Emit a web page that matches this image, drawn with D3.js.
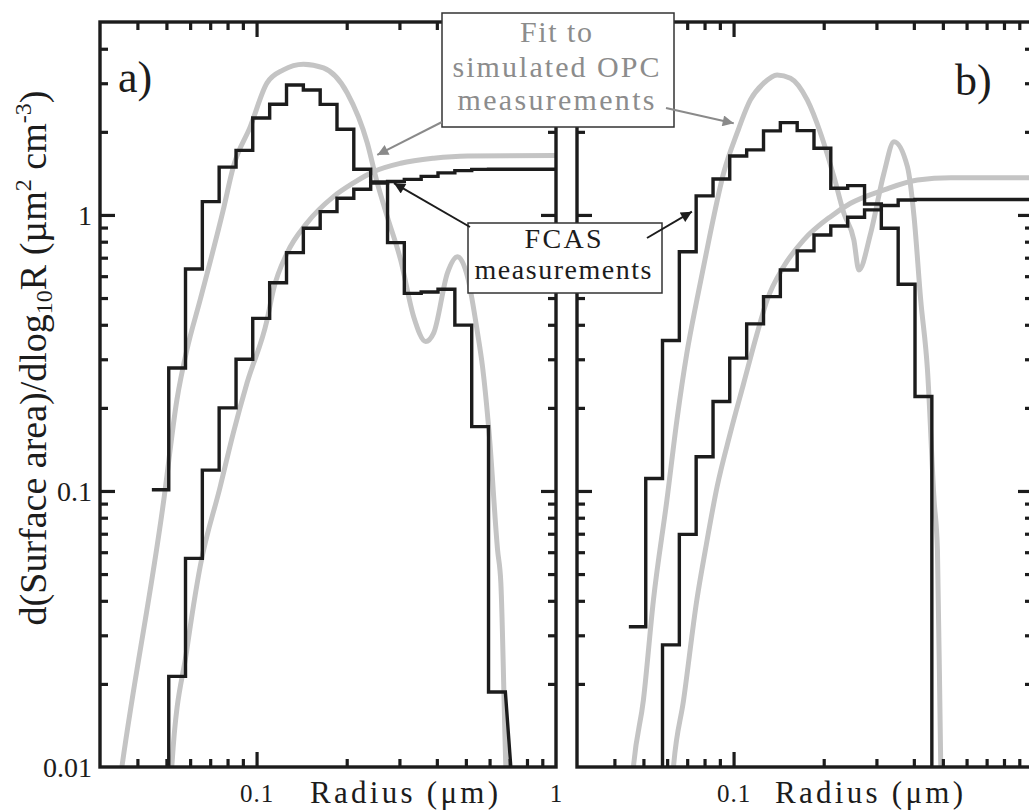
<!DOCTYPE html>
<html>
<head>
<meta charset="utf-8">
<script src="https://cdn.jsdelivr.net/npm/d3@7"></script>
<style>
  body { margin: 0; background: #fff; }
  svg { display: block; }
  text { font-family: "Liberation Serif", "Times New Roman", serif; }
</style>
</head>
<body>
<svg id="chart" width="1029" height="812"></svg>
<script>
// bin edges (radius, um) shared by both FCAS histograms
const binEdges = [0.0447, 0.0509, 0.0579, 0.0659, 0.0750, 0.0854, 0.0971, 0.1106, 0.1259, 0.1433, 0.1631,
  0.1856, 0.2112, 0.2405, 0.2738, 0.3115, 0.3546, 0.4036, 0.4594, 0.5230, 0.5952, 0.6775]

// panel a) FCAS histograms (0 = below the axis)
const diffA = [0.101, 0.279, 0.637, 1.117, 1.490, 1.713, 2.246, 2.518, 2.958, 2.837, 2.514, 2.044, 1.464,
  1.317, 0.794, 0.520, 0.526, 0.538, 0.399, 0.171, 0.0187]
const tailA = [0.74, 0.005]
const cumA = [0, 0.0213, 0.057, 0.119, 0.200, 0.300, 0.422, 0.568, 0.730, 0.895, 1.028, 1.149, 1.239,
  1.306, 1.322, 1.345, 1.379, 1.420, 1.447, 1.462, 1.464]

// panel b) FCAS histograms
const diffB = [0.0322, 0.111, 0.351, 0.736, 1.172, 1.350, 1.636, 1.720, 2.016, 2.160, 2.021, 1.745, 1.249,
  1.277, 1.096, 0.895, 0.561, 0.220, 0]
const cumB = [0, 0, 0.0277, 0.0696, 0.133, 0.211, 0.303, 0.403, 0.506, 0.632, 0.741, 0.846, 0.912,
  0.981, 1.043, 1.082, 1.133, 1.138]

// fits to simulated OPC measurements [radius, value]
const fitDiffA = [[0.0345, 0.008], [0.0355, 0.010], [0.0490, 0.0928], [0.0542, 0.214], [0.0585, 0.324], [0.0648, 0.492],
  [0.0774, 1.043], [0.0836, 1.492], [0.0953, 2.089], [0.1084, 3.008], [0.1229, 3.353], [0.1434, 3.516],
  [0.1673, 3.409], [0.2008, 2.767], [0.2343, 1.823], [0.2530, 1.306], [0.2732, 0.986], [0.3028, 0.687],
  [0.3347, 0.428], [0.3672, 0.348], [0.3906, 0.374], [0.4341, 0.617], [0.4687, 0.706], [0.5063, 0.598],
  [0.5469, 0.374], [0.5684, 0.282], [0.5980, 0.162], [0.6381, 0.0611], [0.6544, 0.0464], [0.6800, 0.010],
  [0.685, 0.008]]
const fitCumA = [[0.0515, 0.008], [0.0521, 0.010], [0.0585, 0.0266], [0.0648, 0.0532], [0.0756, 0.1036],
  [0.0836, 0.162], [0.0929, 0.246], [0.1084, 0.4165], [0.1138, 0.535], [0.1265, 0.728], [0.1475, 0.936],
  [0.1807, 1.165], [0.2108, 1.306], [0.2459, 1.435], [0.3028, 1.539], [0.3906, 1.605], [0.5063, 1.636],
  [1.0, 1.643]]
const fitDiffB = [[0.0455, 0.008], [0.0463, 0.010], [0.0500, 0.0175], [0.0540, 0.0403], [0.0599, 0.0928],
  [0.0647, 0.181], [0.0698, 0.315], [0.0754, 0.492], [0.0836, 0.858], [0.0926, 1.416], [0.1027, 1.977],
  [0.1138, 2.610], [0.1261, 3.001], [0.1398, 3.216], [0.1549, 3.129], [0.1762, 2.610], [0.1952, 1.977],
  [0.2163, 1.376], [0.2336, 1.014], [0.2522, 0.812], [0.2621, 0.632], [0.2869, 0.858], [0.3178, 1.416],
  [0.3434, 1.843], [0.3807, 1.496], [0.4006, 0.986], [0.4217, 0.492], [0.4442, 0.2745], [0.4673, 0.0928],
  [0.4796, 0.0611], [0.4920, 0.010], [0.494, 0.008]]
const fitCumB = [[0.0620, 0.008], [0.0630, 0.010], [0.0681, 0.0175], [0.0754, 0.0403], [0.0805, 0.0611],
  [0.0881, 0.1036], [0.0975, 0.162], [0.1081, 0.2456], [0.1199, 0.3727], [0.1294, 0.492], [0.1470, 0.650],
  [0.1716, 0.812], [0.2108, 0.986], [0.2459, 1.102], [0.3178, 1.232], [0.4113, 1.339], [0.5316, 1.365],
  [1.0, 1.365]]

const xDomain = [0.03, 1]
const yDomain = [0.01, 5]
const xTickLabels = [[0.1, 1], [0.1]]
const yTickLabels = [0.01, 0.1, 1]

const black = "#1c1c1c", grey = "#c4c4c4"
const svg = d3.select("#chart")
const margin = { top: 22, bottom: 767 }

const panels = [
  { left: 100, right: 556, diff: diffA, tail: tailA, cum: cumA, fitD: fitDiffA, fitC: fitCumA,
    ticks: xTickLabels[0], tag: "a)", tagX: 118, tagY: 92, radX: 310, yLabels: true },
  { left: 577, right: 1033, diff: diffB, tail: null, cum: cumB, fitD: fitDiffB, fitC: fitCumB,
    ticks: xTickLabels[1], tag: "b)", tagX: 955, tagY: 95, radX: 775, yLabels: false }
]

const y = d3.scaleLog().domain(yDomain).range([margin.bottom, margin.top])
const yv = v => y(Math.max(v, 1e-3))

// marker defs
const defs = svg.append("defs")
function marker(id, color) {
  defs.append("marker").attr("id", id)
    .attr("viewBox", "0 0 10 10").attr("refX", 10).attr("refY", 5)
    .attr("markerUnits", "userSpaceOnUse").attr("markerWidth", 17).attr("markerHeight", 11)
    .attr("orient", "auto")
    .append("path").attr("d", "M0,0 L10,5 L0,10 z").attr("fill", color)
}
marker("arrGrey", "#8a8a8a")
marker("arrBlack", black)

const scales = []

panels.forEach((p, i) => {
  const x = d3.scaleLog().domain(xDomain).range([p.left, p.right])
  scales.push(x)
  const g = svg.append("g")

  defs.append("clipPath").attr("id", "clip" + i)
    .append("rect").attr("x", p.left).attr("y", margin.top)
    .attr("width", p.right - p.left).attr("height", margin.bottom - margin.top)

  const plot = g.append("g").attr("clip-path", "url(#clip" + i + ")")

  const curve = d3.line().x(d => x(d[0])).y(d => yv(d[1])).curve(d3.curveMonotoneX)
  ;[p.fitD, p.fitC].forEach(f => {
    plot.append("path").datum(f).attr("d", curve)
      .attr("fill", "none").attr("stroke", grey).attr("stroke-width", 5)
      .attr("stroke-linejoin", "round")
  })

  // step histograms
  const steps = (vals) => {
    const pts = []
    vals.forEach((v, k) => { pts.push([binEdges[k], v]); pts.push([binEdges[k + 1], v]) })
    return pts
  }
  const line = d3.line().x(d => x(d[0])).y(d => yv(d[1]))
  const dPts = steps(p.diff)
  if (p.tail) dPts.push(p.tail)
  const cPts = steps(p.cum)
  cPts.push([xDomain[1], p.cum[p.cum.length - 1]])
  ;[dPts, cPts].forEach(pts => {
    plot.append("path").datum(pts).attr("d", line)
      .attr("fill", "none").attr("stroke", black).attr("stroke-width", 3.4)
      .attr("stroke-linejoin", "miter")
  })

  // axes: ticks pointing inward on all four sides
  const xt = x.ticks().filter(t => t > xDomain[0] && t < xDomain[1])
  const yt = y.ticks().filter(t => t > yDomain[0] && t < yDomain[1])
  const isMajor = t => Math.abs(Math.log10(t) - Math.round(Math.log10(t))) < 1e-6
  const axisStyle = sel => {
    sel.select(".domain").remove()
    sel.selectAll("line").attr("stroke", black).attr("stroke-width", 3.2)
  }
  const sides = [
    { ax: d3.axisBottom(x), pos: "translate(0," + margin.bottom + ")", vals: xt },
    { ax: d3.axisTop(x), pos: "translate(0," + margin.top + ")", vals: xt },
    { ax: d3.axisLeft(y), pos: "translate(" + p.left + ",0)", vals: yt },
    { ax: d3.axisRight(y), pos: "translate(" + p.right + ",0)", vals: yt }
  ]
  sides.forEach(s => {
    g.append("g").attr("transform", s.pos)
      .call(s.ax.tickValues(s.vals.filter(t => !isMajor(t))).tickSize(-8).tickFormat(""))
      .call(axisStyle)
    g.append("g").attr("transform", s.pos)
      .call(s.ax.tickValues(s.vals.filter(isMajor)).tickSize(-15).tickFormat(""))
      .call(axisStyle)
  })

  // x tick labels
  g.append("g").attr("transform", "translate(0," + margin.bottom + ")")
    .call(d3.axisBottom(x).tickValues(p.ticks).tickSize(0).tickFormat(d3.format("~g")))
    .call(sel => {
      sel.select(".domain").remove()
      sel.selectAll("text").attr("y", 35).attr("dy", null)
        .attr("font-size", 25).attr("fill", black).attr("font-family", "Liberation Serif")
        .attr("letter-spacing", 1)
    })

  if (p.yLabels) {
    g.append("g").attr("transform", "translate(" + p.left + ",0)")
      .call(d3.axisLeft(y).tickValues(yTickLabels).tickSize(0).tickPadding(8).tickFormat(d3.format("~g")))
      .call(sel => {
        sel.select(".domain").remove()
        sel.selectAll("text").attr("dy", "0.34em")
          .attr("font-size", 28).attr("fill", black).attr("font-family", "Liberation Serif")
      })
  }

  // frame
  g.append("rect").attr("x", p.left).attr("y", margin.top)
    .attr("width", p.right - p.left).attr("height", margin.bottom - margin.top)
    .attr("fill", "none").attr("stroke", black).attr("stroke-width", 3.4)

  g.append("text").attr("x", p.tagX).attr("y", p.tagY)
    .attr("font-size", 44).attr("fill", black).text(p.tag)

  g.append("text").attr("x", p.radX).attr("y", 803)
    .attr("font-size", 31).attr("fill", black)
    .attr("textLength", 188).attr("lengthAdjust", "spacing")
    .text("Radius (\u03bcm)")
})

// y axis title
const yTitle = svg.append("text")
  .attr("transform", "translate(46,358) rotate(-90)")
  .attr("text-anchor", "middle").attr("font-size", 38).attr("fill", black)
yTitle.append("tspan").text("d(Surface area)/dlog")
yTitle.append("tspan").attr("font-size", 24).attr("dy", 6).text("10")
yTitle.append("tspan").attr("dy", -6).text("R (\u00b5m")
yTitle.append("tspan").attr("font-size", 24).attr("dy", -15).text("2")
yTitle.append("tspan").attr("dy", 15).text(" cm")
yTitle.append("tspan").attr("font-size", 24).attr("dy", -15).text("-3")
yTitle.append("tspan").attr("dy", 15).text(")")

// annotations
const xa = scales[0], xb = scales[1]
const arrows = [
  { from: [442, 122], to: [xa(0.253), y(1.65)], m: "arrGrey", c: "#8a8a8a" },
  { from: [666, 108], to: [xb(0.1001), y(2.149)], m: "arrGrey", c: "#8a8a8a" },
  { from: [470, 227], to: [xa(0.2876), y(1.303)], m: "arrBlack", c: black },
  { from: [647, 238], to: [xb(0.0726), y(1.028)], m: "arrBlack", c: black }
]

const boxes = [
  { x: 442, y: 13, w: 232, h: 114, color: "#8c8c8c", size: 30, cx: 556,
    lines: [["Fit to", 42, 72], ["simulated OPC", 77, 207], ["measurements", 110, 197]] },
  { x: 468, y: 223, w: 194, h: 70, color: black, size: 28, cx: 563,
    lines: [["FCAS", 248, 77], ["measurements", 279, 177]] }
]

boxes.forEach((b, i) => {
  svg.append("rect").attr("x", b.x).attr("y", b.y).attr("width", b.w).attr("height", b.h)
    .attr("fill", "#fff").attr("stroke", "#333").attr("stroke-width", 1.5)
  b.lines.forEach(l => {
    svg.append("text").attr("x", b.cx).attr("y", l[1]).attr("text-anchor", "middle")
      .attr("font-size", b.size).attr("fill", b.color)
      .attr("textLength", l[2]).attr("lengthAdjust", "spacing").text(l[0])
  })
})

arrows.forEach(a => {
  svg.append("line").attr("x1", a.from[0]).attr("y1", a.from[1])
    .attr("x2", a.to[0]).attr("y2", a.to[1])
    .attr("stroke", a.c).attr("stroke-width", 2).attr("marker-end", "url(#" + a.m + ")")
})
</script>
</body>
</html>
